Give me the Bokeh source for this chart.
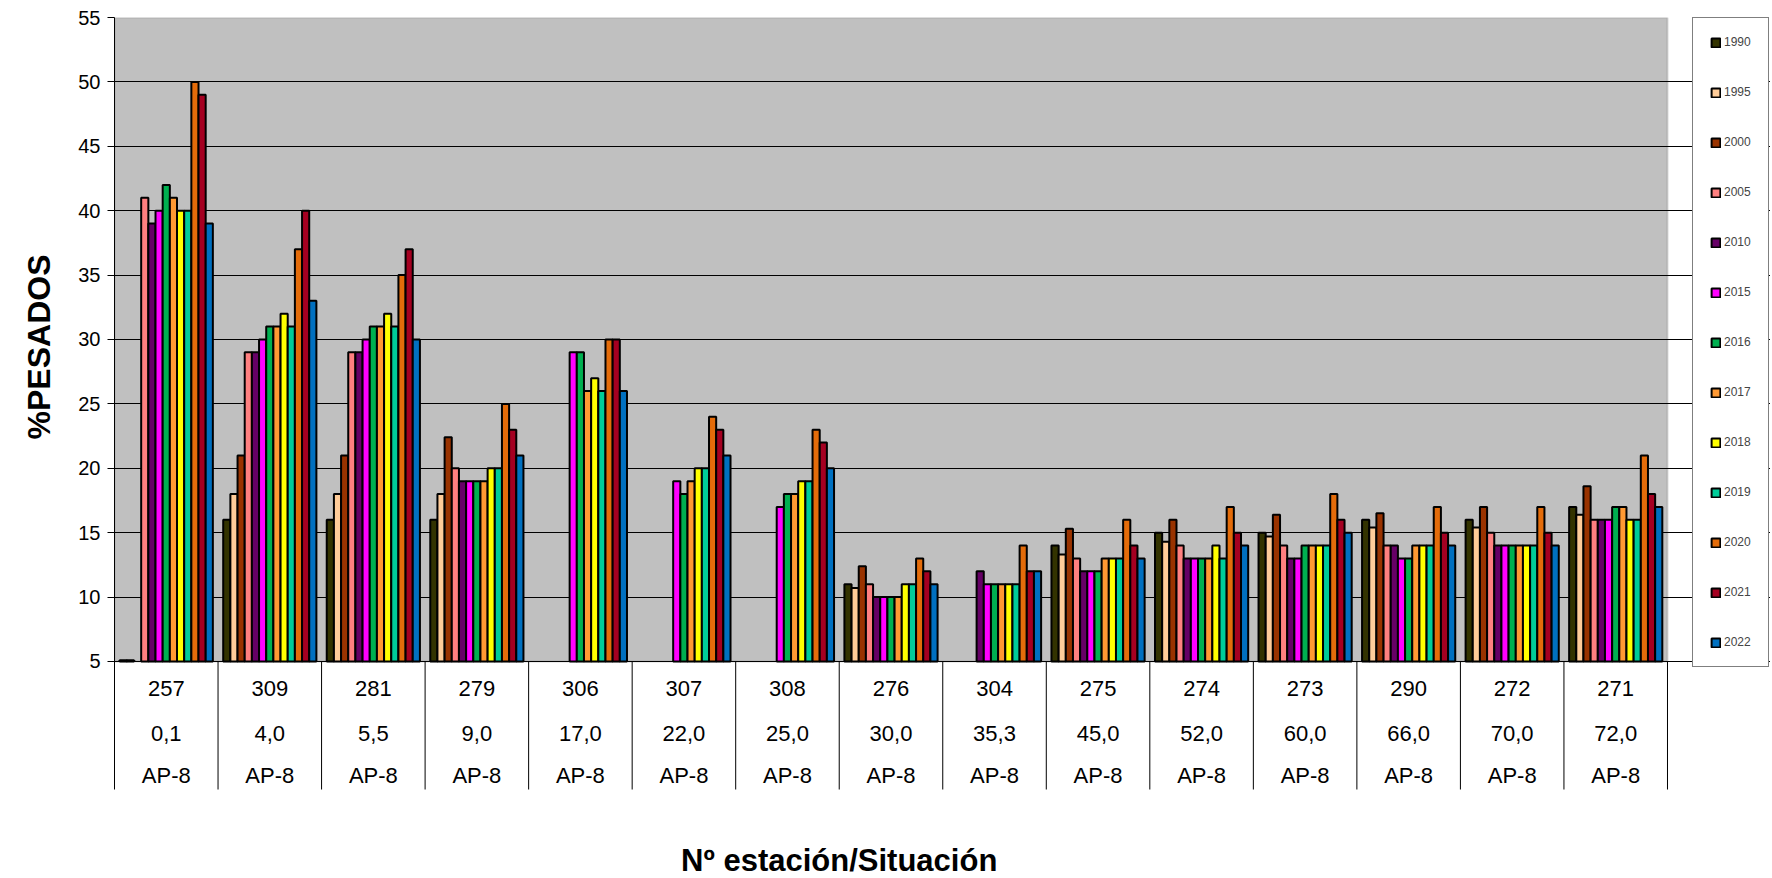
from bokeh.plotting import figure
from bokeh.models import Range1d, FixedTicker, BoxAnnotation, Legend, LegendItem, Title
from bokeh.embed import file_html
from bokeh.resources import INLINE
from bokeh.core.properties import value

# ---------------- data ----------------
stations = ["257", "309", "281", "279", "306", "307", "308", "276", "304",
            "275", "274", "273", "290", "272", "271"]
km = ["0,1", "4,0", "5,5", "9,0", "17,0", "22,0", "25,0", "30,0", "35,3",
      "45,0", "52,0", "60,0", "66,0", "70,0", "72,0"]
road = ["AP-8"] * 15

years = ["1990", "1995", "2000", "2005", "2010", "2015", "2016", "2017",
         "2018", "2019", "2020", "2021", "2022"]

N = None
v1990 = [5.1, 16, 16, 16, N, N, N, 11, N, 14, 15, 15, 16, 16, 17]
v1995 = [5.1, 18, 18, 18, N, N, N, 10.7, N, 13.3, 14.3, 14.7, 15.4, 15.4, 16.4]
v2000 = [N, 21, 21, 22.4, N, N, N, 12.4, N, 15.3, 16, 16.4, 16.5, 17, 18.6]
v2005 = [41, 29, 29, 20, N, N, N, 11, N, 13, 14, 14, 14, 15, 16]
v2010 = [39, 29, 29, 19, N, N, N, 10, 12, 12, 13, 13, 14, 14, 16]
v2015 = [40, 30, 30, 19, 29, 19, 17, 10, 11, 12, 13, 13, 13, 14, 16]
v2016 = [42, 31, 31, 19, 29, 18, 18, 10, 11, 12, 13, 14, 13, 14, 17]
v2017 = [41, 31, 31, 19, 26, 19, 18, 10, 11, 13, 13, 14, 14, 14, 17]
v2018 = [40, 32, 32, 20, 27, 20, 19, 11, 11, 13, 14, 14, 14, 14, 16]
v2019 = [40, 31, 31, 20, 26, 20, 19, 11, 11, 13, 13, 14, 14, 14, 16]
v2020 = [50, 37, 35, 25, 30, 24, 23, 13, 14, 16, 17, 18, 17, 17, 21]
v2021 = [49, 40, 37, 23, 30, 23, 22, 12, 12, 14, 15, 16, 15, 15, 18]
v2022 = [39, 33, 30, 21, 26, 21, 20, 11, 12, 13, 14, 15, 14, 14, 17]

series = [v1990, v1995, v2000, v2005, v2010, v2015, v2016, v2017,
          v2018, v2019, v2020, v2021, v2022]
colors = ["#333300", "#FFCC99", "#993300", "#FF8080", "#660066", "#FF00FF",
          "#00B050", "#FF9933", "#FFFF00", "#00CC99", "#E46C0A", "#A50021",
          "#0070C0"]

y_ticks = [5, 10, 15, 20, 25, 30, 35, 40, 45, 50, 55]

# ---------------- layout constants ----------------
BASE = 5
YTOP = 55
YTAB = -4.94      # bottom of the category table
YMIN = -11.85     # bottom of canvas
NCAT = len(stations)
XMAX = 15.995     # extra room on the right for the legend
FONT = "Liberation Sans"

p = figure(width=1770, height=878, x_range=Range1d(0, XMAX), y_range=Range1d(YMIN, YTOP),
           output_backend="svg", toolbar_location=None, x_axis_location=None,
           min_border_left=114, min_border_right=0, min_border_top=17, min_border_bottom=0,
           background_fill_color="white", border_fill_color="white", outline_line_color=None)

# plot area background
p.add_layout(BoxAnnotation(left=0, right=NCAT, bottom=BASE, top=YTOP, fill_color="#C0C0C0",
                           fill_alpha=1, line_color="#808080", line_width=2, level="image"))

p.xgrid.grid_line_color = None
p.ygrid.ticker = FixedTicker(ticks=y_ticks[:-1])
p.ygrid.bounds = (0, NCAT)
p.ygrid.grid_line_color = "black"
p.ygrid.grid_line_width = 1

ax = p.yaxis[0]
ax.ticker = FixedTicker(ticks=y_ticks)
ax.bounds = (YTAB, YTOP)
ax.minor_tick_line_color = None
ax.major_tick_in = 0
ax.major_tick_out = 7
ax.major_tick_line_color = "black"
ax.axis_line_color = "black"
ax.axis_line_width = 1
ax.major_label_text_font = FONT
ax.major_label_text_font_size = "20px"
ax.major_label_text_color = "black"
ax.major_label_standoff = 7

# y title (as a left-side title so it can sit beside the plotting area)
p.add_layout(Title(text="%PESADOS", align="right", offset=237,
                   text_font=FONT, text_font_size="32px", text_font_style="bold",
                   text_color="black", standoff=37), "left")

# bars
n_series = len(years)
bw = 0.9 / n_series
items = []
for j, (yr, vals) in enumerate(zip(years, series)):
    xs = [i + 0.5 + (j - (n_series - 1) / 2) * bw for i, v in enumerate(vals) if v is not None]
    tops = [v for v in vals if v is not None]
    r = p.vbar(x=xs, top=tops, bottom=BASE, width=bw, fill_color=colors[j],
               line_color="black", line_width=2)
    items.append(LegendItem(label=yr, renderers=[r]))

# table below the plot
bounds = list(range(1, NCAT + 1))
p.segment(x0=bounds, y0=[YTAB] * len(bounds), x1=bounds, y1=[BASE] * len(bounds),
          line_color="black", line_width=1)
centers = [i + 0.5 for i in range(NCAT)]
for txt, yy in ((stations, 2.9), (km, -0.59), (road, -3.85)):
    p.text(x=centers, y=[yy] * len(centers), text=txt, text_align="center",
           text_baseline="middle", text_font=value(FONT),
           text_font_size="22px", text_color="black")

# x title
p.text(x=[7.0], y=[-10.45], text=["Nº estación/Situación"], text_align="center",
       text_baseline="middle", text_font=value(FONT), text_font_size="31px",
       text_font_style="bold", text_color="black")

# legend
legend = Legend(items=items, location=(1578, 211), orientation="vertical",
                glyph_width=11, glyph_height=11, label_height=14, spacing=36,
                padding=17, margin=0, label_standoff=3,
                label_text_font=FONT, label_text_font_size="12px",
                border_line_color="black", border_line_width=1,
                background_fill_color="white", background_fill_alpha=1)
p.add_layout(legend)

open("out.html", "w").write(file_html(p, INLINE))
